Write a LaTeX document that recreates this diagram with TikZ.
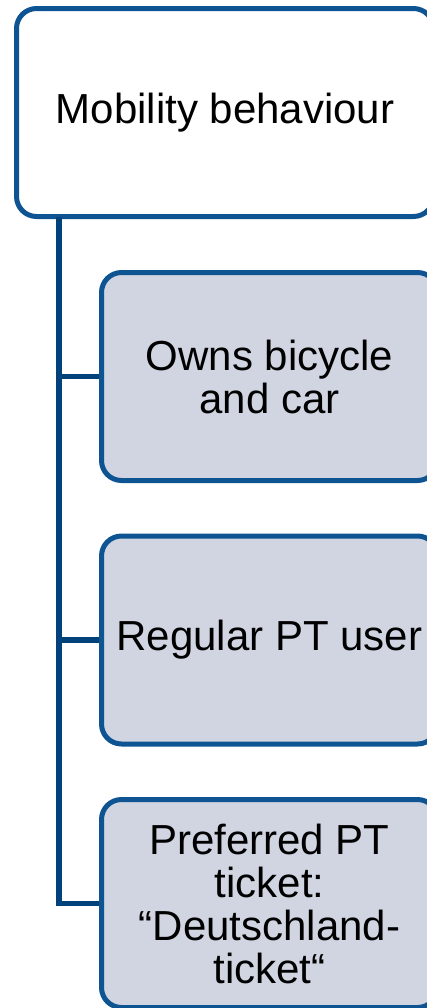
\documentclass[tikz,border=0pt]{standalone}
\usepackage{fontspec}
\setmainfont{Liberation Sans}
\usetikzlibrary{positioning}

\definecolor{boxblue}{RGB}{14,84,146}
\definecolor{linkblue}{RGB}{0,66,122}
\definecolor{childfill}{RGB}{208,213,225}

\begin{document}
\begin{tikzpicture}[
    x=0.5pt, y=-0.5pt,
    topbox/.style={
        rectangle,
        rounded corners=10pt,
        minimum width=208.5pt,
        minimum height=104pt,
        align=center,
        draw=boxblue,
        line width=2.5pt,
        fill=white,
        font=\fontsize{21}{21.5}\selectfont
    },
    childbox/.style={
        rectangle,
        rounded corners=10pt,
        minimum width=168pt,
        minimum height=104pt,
        align=center,
        draw=boxblue,
        line width=2.5pt,
        fill=childfill,
        font=\fontsize{21}{21.5}\selectfont
    },
    link/.style={draw=linkblue, line width=2.7pt}
]

\clip (0,0) rectangle (427,1008);

\node (mob) [topbox] at (225,112.5) {Mobility behaviour};

\node (own) [childbox] at (269.5,376.5) {Owns bicycle\\and car};
\node (reg) [childbox] at (269.5,640) {Regular PT user};
\node (tkt) [childbox] at (269.5,903.5)
    {Preferred PT\\ticket:\\``Deutschland-\\ticket``};

\coordinate (trunk) at (59,217);

\draw [link] (trunk) |- (own.west);
\draw [link] (trunk) |- (reg.west);
\draw [link] (trunk) |- (tkt.west);

\end{tikzpicture}
\end{document}
